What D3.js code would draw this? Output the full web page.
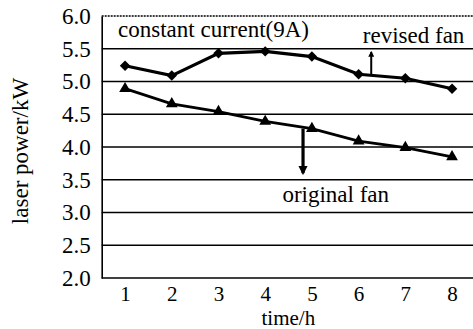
<!DOCTYPE html>
<html>
<head>
<meta charset="utf-8">
<script src="https://cdn.jsdelivr.net/npm/d3@7"></script>
<style>
  body { margin: 0; background: #fff; }
  text { font-family: "Liberation Serif", "Times New Roman", "DejaVu Serif", serif; fill: #000; }
</style>
</head>
<body>
<div id="chart"></div>
<script>
const width = 473;
const height = 329;

// data
const hours = [1, 2, 3, 4, 5, 6, 7, 8];
const revisedFan = [5.24, 5.09, 5.43, 5.46, 5.38, 5.11, 5.05, 4.89];
const originalFan = [4.89, 4.66, 4.54, 4.39, 4.28, 4.09, 3.99, 3.85];
const yTicks = [2.0, 2.5, 3.0, 3.5, 4.0, 4.5, 5.0, 5.5, 6.0];

const fontSize = "23px";

const svg = d3.select("#chart")
  .append("svg")
  .attr("width", width)
  .attr("height", height);

const x = d3.scaleLinear().domain([0.5, 8.5]).range([101.7, 475.4]);
const y = d3.scaleLinear().domain([2, 6]).range([278, 16]);

// horizontal grid lines
svg.selectAll(".grid")
  .data(yTicks)
  .join("line")
  .attr("class", "grid")
  .attr("x1", x(0.5))
  .attr("x2", width)
  .attr("y1", d => y(d))
  .attr("y2", d => y(d))
  .attr("stroke", "#000")
  .attr("stroke-width", d => d === 6 ? 1.4 : 1.6)
  .attr("stroke-dasharray", d => d === 6 ? "2,1" : null);

// left axis
const yAxis = svg.append("g")
  .attr("transform", `translate(${x(0.5)},0)`)
  .call(d3.axisLeft(y).tickValues(yTicks).tickFormat(d3.format(".1f")).tickSize(0).tickPadding(11));
yAxis.select(".domain").attr("stroke", "#000").attr("stroke-width", 1.6);
yAxis.selectAll("text").style("font-size", fontSize);

// bottom tick labels
const xAxis = svg.append("g")
  .attr("transform", `translate(0,${y(2)})`)
  .call(d3.axisBottom(x).tickValues(hours).tickSize(0).tickPadding(8));
xAxis.select(".domain").remove();
xAxis.selectAll("text").style("font-size", "21px");

// axis titles
svg.append("text")
  .attr("x", (x(0.5) + width) / 2 + 1)
  .attr("y", 325)
  .attr("text-anchor", "middle")
  .style("font-size", "21px")
  .text("time/h");

svg.append("text")
  .attr("transform", `translate(28,${(y(2) + y(6)) / 2 + 4}) rotate(-90)`)
  .attr("text-anchor", "middle")
  .style("font-size", fontSize)
  .text("laser power/kW");

const line = d3.line()
  .x((d, i) => x(hours[i]))
  .y(d => y(d));

svg.append("path")
  .datum(revisedFan)
  .attr("d", line)
  .attr("fill", "none")
  .attr("stroke", "#000")
  .attr("stroke-width", 3.2);

svg.append("path")
  .datum(originalFan)
  .attr("d", line)
  .attr("fill", "none")
  .attr("stroke", "#000")
  .attr("stroke-width", 2.8);

svg.selectAll(".diamond")
  .data(revisedFan)
  .join("path")
  .attr("class", "diamond")
  .attr("d", d3.symbol(d3.symbolDiamond2, 70))
  .attr("transform", (d, i) => `translate(${x(hours[i])},${y(d)})`)
  .attr("fill", "#000");

svg.selectAll(".tri")
  .data(originalFan)
  .join("path")
  .attr("class", "tri")
  .attr("d", d3.symbol(d3.symbolTriangle, 60))
  .attr("transform", (d, i) => `translate(${x(hours[i])},${y(d)})`)
  .attr("fill", "#000");

// annotations
const defs = svg.append("defs");
defs.append("marker")
  .attr("id", "head")
  .attr("viewBox", "0 0 10 10")
  .attr("refX", 8)
  .attr("refY", 5)
  .attr("markerWidth", 3)
  .attr("markerHeight", 3.2)
  .attr("orient", "auto")
  .append("path")
  .attr("d", "M0,0L10,5L0,10Z")
  .attr("fill", "#000");

svg.append("line")
  .attr("x1", x(6.27)).attr("x2", x(6.27))
  .attr("y1", y(5.1)).attr("y2", y(5.45))
  .attr("stroke", "#000")
  .attr("stroke-width", 2)
  .attr("marker-end", "url(#head)");

svg.append("line")
  .attr("x1", x(4.81)).attr("x2", x(4.81))
  .attr("y1", y(4.28)).attr("y2", y(3.6))
  .attr("stroke", "#000")
  .attr("stroke-width", 3.2)
  .attr("marker-end", "url(#head)");

svg.append("text")
  .attr("x", x(0.85))
  .attr("y", y(5.68))
  .style("font-size", fontSize)
  .text("constant current(9A)");

svg.append("text")
  .attr("x", x(6.09))
  .attr("y", y(5.59))
  .style("font-size", fontSize)
  .text("revised fan");

svg.append("text")
  .attr("x", x(5.51))
  .attr("y", y(3.16))
  .attr("text-anchor", "middle")
  .style("font-size", fontSize)
  .text("original fan");
</script>
</body>
</html>
